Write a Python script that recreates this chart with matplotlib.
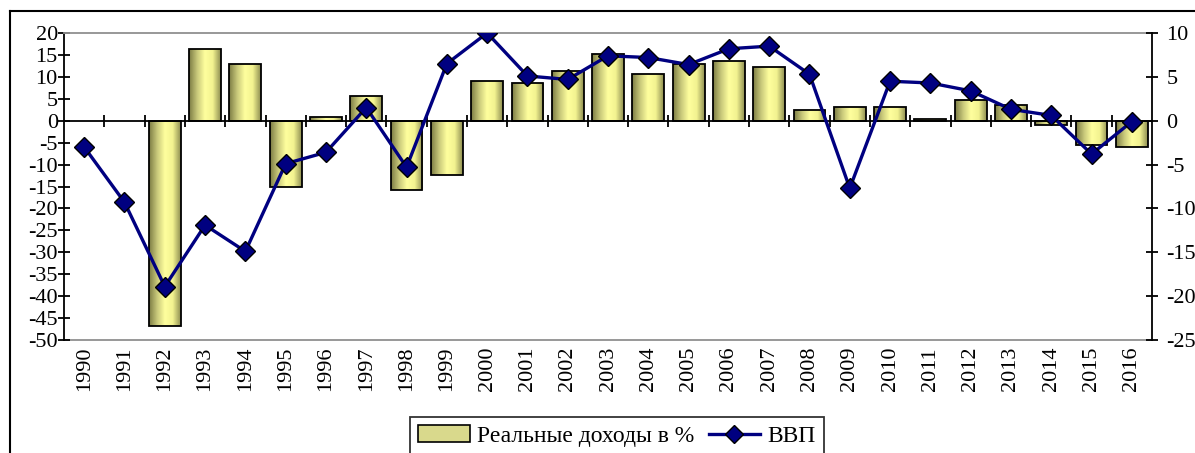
import numpy as np
import matplotlib
matplotlib.use("Agg")
import matplotlib.pyplot as plt
from matplotlib.colors import LinearSegmentedColormap
from matplotlib.patches import Patch
from matplotlib.lines import Line2D

plt.rcParams['font.family'] = ['Liberation Serif', 'DejaVu Serif']

# Data
years = [str(y) for y in range(1990, 2017)]
income = [np.nan, np.nan, -46.7, 16.3, 12.9, -15.0, 0.9, 5.7, -15.9, -12.4,
          9.1, 8.7, 11.4, 15.2, 10.6, 12.9, 13.7, 12.2, 2.4, 3.1,
          3.1, 0.5, 4.7, 3.5, -1.0, -5.6, -5.9]
gdp = [-3.0, -9.3, -18.9, -11.9, -14.9, -4.9, -3.6, 1.5, -5.3, 6.5,
       10.0, 5.1, 4.7, 7.4, 7.2, 6.4, 8.2, 8.5, 5.3, -7.7,
       4.5, 4.3, 3.4, 1.3, 0.6, -3.8, -0.1]
left_ticks = list(range(-50, 21, 5))
right_ticks = list(range(-25, 11, 5))

fig = plt.figure(figsize=(11.95, 4.53), dpi=100)
ax = fig.add_axes([0.0536, 0.2494, 0.9104, 0.6778])
x = np.arange(len(years))

# gradient bars
grad = LinearSegmentedColormap.from_list(
    "bar", ["#7d7d45", "#c8c87a", "#ffff9e", "#f2f290", "#8f8f52"])
g = np.linspace(0, 1, 64).reshape(1, -1)
bars = ax.bar(x, income, width=0.79, color="none", edgecolor="black",
              linewidth=1.3, zorder=3)
for b in bars:
    if np.isnan(b.get_height()):
        continue
    x0, w = b.get_x(), b.get_width()
    y0, h = b.get_y(), b.get_height()
    im = ax.imshow(g, cmap=grad, aspect="auto", zorder=2,
                   extent=[x0, x0 + w, min(y0, y0 + h), max(y0, y0 + h)])
    im.set_clip_path(b)

ax.set_xlim(-0.5, len(years) - 0.5)
ax.set_ylim(-50, 20)
ax.set_yticks(left_ticks)
ax.set_yticklabels([str(t) for t in left_ticks])
ax.tick_params(axis="y", direction="inout", length=9, width=1.3,
               labelsize=16, pad=0)

# category axis crossing at zero
ax.spines["bottom"].set_position(("data", 0))
ax.spines["bottom"].set_linewidth(1.3)
ax.set_xticks(x[:-1] + 0.5)
ax.set_xticklabels([])
ax.tick_params(axis="x", direction="inout", length=9, width=1.3)
ax.spines["left"].set_linewidth(1.3)
ax.spines["top"].set_color("#909090")
ax.spines["top"].set_linewidth(1.3)
ax.spines["right"].set_visible(False)

# year labels at the bottom of the plot
sec = ax.secondary_xaxis(0.0)
sec.set_xticks(x)
sec.set_xticklabels(years, rotation=90, fontsize=16)
sec.tick_params(length=0, pad=5)
sec.spines["bottom"].set_color("#909090")
sec.spines["bottom"].set_linewidth(1.3)

ax2 = ax.twinx()
ax2.plot(x, gdp, color="#000080", linewidth=2.4, marker="D", markersize=10.5,
         markerfacecolor="#000080", markeredgecolor="black",
         markeredgewidth=1.0, zorder=5)
ax2.set_ylim(-25, 10)
ax2.set_yticks(right_ticks)
ax2.set_yticklabels([str(t) for t in right_ticks])
ax2.tick_params(axis="y", direction="inout", length=9, width=1.3,
                labelsize=16, pad=6)
ax2.spines["right"].set_linewidth(1.3)
for s in ["top", "bottom", "left"]:
    ax2.spines[s].set_visible(False)

# outer chart frame
fig.add_artist(Line2D([10 / 1195, 10 / 1195], [0, 1 - 11 / 453],
                      transform=fig.transFigure, color="black", linewidth=1.5))
fig.add_artist(Line2D([10 / 1195, 1], [1 - 11 / 453, 1 - 11 / 453],
                      transform=fig.transFigure, color="black", linewidth=1.5))

handles = [Patch(facecolor="#d9d98c", edgecolor="black", linewidth=1.2),
           Line2D([], [], color="#000080", linewidth=2.4, marker="D",
                  markersize=9, markerfacecolor="#000080",
                  markeredgecolor="black")]
leg = fig.legend(handles, ["Реальные доходы в %", "ВВП"], ncol=2,
                 loc="lower left", bbox_to_anchor=(398 / 1195, -14 / 453),
                 fontsize=17, frameon=True, fancybox=False, edgecolor="black",
                 handlelength=2.2, handletextpad=0.3, columnspacing=0.6,
                 borderpad=0.35)
leg.get_frame().set_linewidth(1.3)

plt.savefig("out.png", dpi=100)
